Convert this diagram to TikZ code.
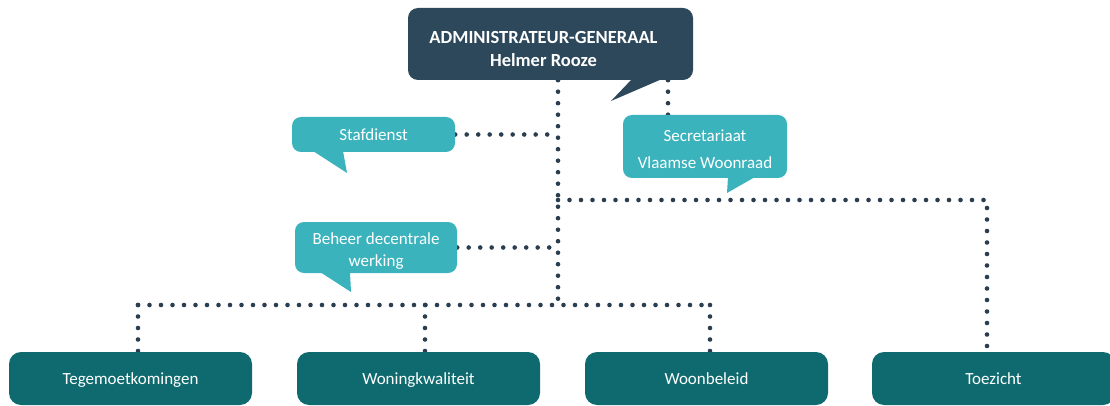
\documentclass[tikz,border=0pt]{standalone}
\usepackage{fontspec}
\setmainfont{Carlito}
\usetikzlibrary{backgrounds}
\definecolor{navy}{HTML}{2D475B}
\definecolor{lteal}{HTML}{3BB3BD}
\definecolor{dteal}{HTML}{0E6A6E}
\definecolor{dotc}{HTML}{2B3E50}
\newcommand{\dn}[2]{\raisebox{-#1}[\height][\depth]{\begin{tabular}{@{}c@{}}#2\end{tabular}}}
\begin{document}
\begin{tikzpicture}[x=1pt,y=-1pt,
  boss/.style={fill=navy, text=white, rounded corners=10pt, minimum width=285pt, minimum height=72pt,
    font=\fontsize{18.5}{23}\selectfont\bfseries, align=center, inner sep=0pt},
  bubble/.style={fill=lteal, text=white, rounded corners=9pt, align=center, inner sep=0pt,
    font=\fontsize{17}{22}\selectfont},
  unit/.style={fill=dteal, text=white, rounded corners=12pt, minimum width=243pt, minimum height=53pt,
    font=\fontsize{17}{20}\selectfont, inner sep=0pt},
  dotline/.style={draw=dotc, line width=4.6pt, line cap=round, dash pattern=on 0pt off 11.5pt}]
\useasboundingbox (0,0) rectangle (1110,406);

% nodes
\node[boss] (top) at (550.5,44) {\dn{6pt}{ADMINISTRATEUR-GENERAAL\\Helmer Rooze}\hspace*{14pt}};
\node[bubble, minimum width=163pt, minimum height=35pt] (staf) at (373.5,134.5) {\dn{2pt}{Stafdienst}};
\node[bubble, minimum width=164pt, minimum height=63pt, font=\fontsize{17}{27}\selectfont] (sec) at (705,146.5) {\dn{3pt}{Secretariaat\\Vlaamse Woonraad}};
\node[bubble, minimum width=162pt, minimum height=51pt] (beh) at (376,247.5) {\dn{4pt}{Beheer decentrale\\werking}};
\node[unit] (teg) at (130.5,378.5) {\dn{2pt}{Tegemoetkomingen}};
\node[unit] (won) at (418.5,378.5) {\dn{2pt}{Woningkwaliteit}};
\node[unit] (wnb) at (706.5,378.5) {\dn{2pt}{Woonbeleid}};
\node[unit] (toe) at (993.5,378.5) {\dn{2pt}{Toezicht}};

% tails
\fill[navy] (632,79) -- (611,101) -- (662,79) -- cycle;
\fill[lteal] (313,151) -- (347,173) -- (343,151) -- cycle;
\fill[lteal] (728,177) -- (727,193) -- (755,177) -- cycle;
\fill[lteal] (320,272) -- (351,292) -- (350,272) -- cycle;

% junctions
\coordinate (jA) at (558,134.5);
\coordinate (jB) at (558,200);
\coordinate (jC) at (558,247.5);
\coordinate (jD) at (558,305);
\coordinate (bL) at (138,305);
\coordinate (bW) at (425,305);
\coordinate (bR) at (710,305);
\coordinate (tR) at (987,200);
\coordinate (sX) at (668,100);

\begin{scope}[on background layer]
\draw[dotline] (top.south -| jD) -- (jD);
\draw[dotline] (staf.east) -- (jA);
\draw[dotline] (beh.east) -- (jC);
\draw[dotline] (jB) -- (tR) -- (tR |- toe.north);
\draw[dotline] (top.south -| sX) -- (sX |- sec.north);
\draw[dotline] (bL) -- (bR);
\draw[dotline] (bL) -- (bL |- teg.north);
\draw[dotline] (bW) -- (bW |- won.north);
\draw[dotline] (bR) -- (bR |- wnb.north);
\end{scope}
\end{tikzpicture}
\end{document}
